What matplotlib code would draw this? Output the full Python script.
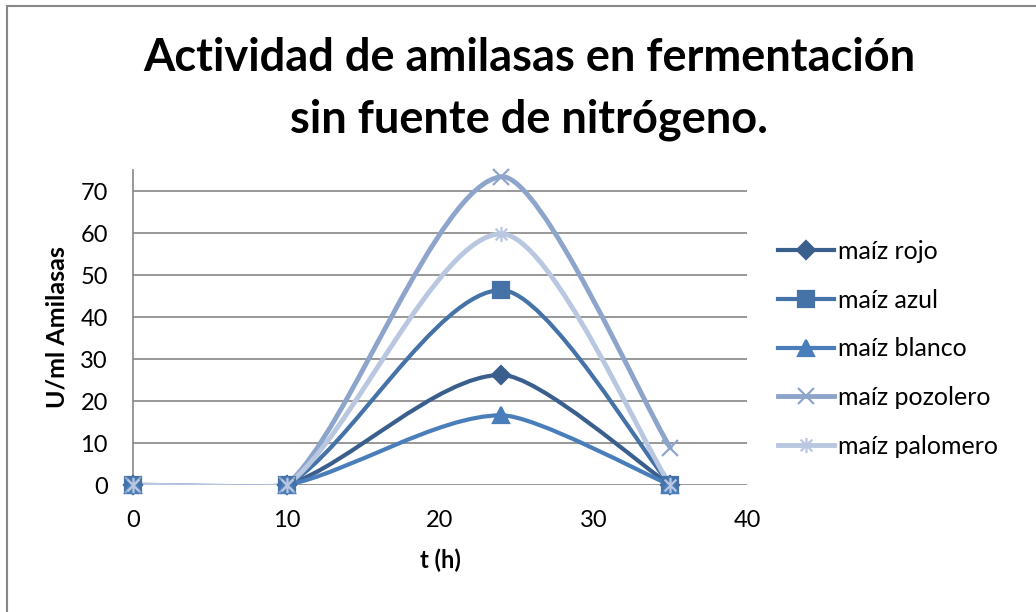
import numpy as np
import matplotlib
matplotlib.use("Agg")
import matplotlib.pyplot as plt
from matplotlib.path import Path
from matplotlib.patches import PathPatch, Rectangle
from matplotlib.lines import Line2D

# --- datos ---
t_h = [0, 10, 24, 35]
maiz_rojo = [0, 0, 26.2, 0]
maiz_azul = [0, 0, 46.4, 0]
maiz_blanco = [0, 0, 16.6, 0]
maiz_pozolero = [0, 0, 73.4, 8.9]
maiz_palomero = [0, 0, 59.8, 0]

series_names = ["maíz rojo", "maíz azul", "maíz blanco", "maíz pozolero", "maíz palomero"]
series_values = [maiz_rojo, maiz_azul, maiz_blanco, maiz_pozolero, maiz_palomero]

x_ticks = [0, 10, 20, 30, 40]
y_ticks = [0, 10, 20, 30, 40, 50, 60, 70]

title = "Actividad de amilasas en fermentación\nsin fuente de nitrógeno."
x_label = "t (h)"
y_label = "U/ml Amilasas"

# --- estilo ---
colors = ["#3A5F8D", "#4572A7", "#4A7EBB", "#8EA5CB", "#B9C7E1"]
line_widths = [3.0, 3.0, 3.0, 3.5, 3.5]
star = Path([(-1, -1), (1, 1), (-1, 1), (1, -1), (0, -1.3), (0, 1.3)],
            [Path.MOVETO, Path.LINETO, Path.MOVETO, Path.LINETO, Path.MOVETO, Path.LINETO])
markers = ["D", "s", "^", "x", star]
marker_sizes = [9, 11.5, 11, 11, 11]
grid_color = "#868686"

plt.rcParams["font.family"] = ["Lato", "DejaVu Sans"]


def smooth_path(ax, xs, ys):
    # curva suavizada tipo Excel (Bezier) calculada en pixeles
    pts = ax.transData.transform(np.column_stack([xs, ys]))
    n = len(pts)
    ext = np.vstack([pts[0], pts, pts[-1]])
    seg = np.linalg.norm(np.diff(pts, axis=0), axis=1)
    verts = [pts[0]]
    codes = [Path.MOVETO]
    for i in range(n - 1):
        p0, p1, p2, p3 = ext[i], ext[i + 1], ext[i + 2], ext[i + 3]
        L = seg[i]
        l_prev = seg[i - 1] if i > 0 else L
        l_next = seg[i + 1] if i < n - 2 else L
        f1 = (1 / 6) * min(1.0, L / l_prev) ** 3
        f2 = (1 / 6) * min(1.0, L / l_next) ** 3
        c1 = p1 + f1 * (p2 - p0)
        c2 = p2 - f2 * (p3 - p1)
        verts += [c1, c2, p2]
        codes += [Path.CURVE4] * 3
    data_verts = ax.transData.inverted().transform(np.array(verts))
    return Path(data_verts, codes)


fig = plt.figure(figsize=(10.36, 6.12), dpi=100)
ax = fig.add_axes([133 / 1036, 1 - 485 / 612, 614 / 1036, 315 / 612])
ax.set_xlim(0, 40)
ax.set_ylim(0, 75)

for i, (name, vals) in enumerate(zip(series_names, series_values)):
    p = smooth_path(ax, t_h, vals)
    ax.add_patch(PathPatch(p, fill=False, edgecolor=colors[i], lw=line_widths[i],
                           capstyle="round", joinstyle="round", zorder=3))
for i, (name, vals) in enumerate(zip(series_names, series_values)):
    ax.plot(t_h, vals, linestyle="none", marker=markers[i], ms=marker_sizes[i],
            color=colors[i], mec=colors[i], mew=1.6, zorder=4, clip_on=False)

ax.set_xticks(x_ticks)
ax.set_yticks(y_ticks)
ax.tick_params(axis="both", length=0, labelsize=17)
ax.tick_params(axis="y", pad=18)
ax.tick_params(axis="x", pad=18)
ax.grid(axis="y", color=grid_color, lw=1.2)
ax.set_axisbelow(True)
for s in ["top", "right", "bottom"]:
    ax.spines[s].set_visible(False)
ax.spines["left"].set_color(grid_color)
ax.spines["left"].set_linewidth(1.2)

ax.set_xlabel(x_label, fontsize=17, fontweight="bold")
ax.set_ylabel(y_label, fontsize=18, fontweight="bold")
ax.xaxis.set_label_coords(307 / 614, -64 / 315)
ax.yaxis.set_label_coords(-64 / 614, 0.5)

fig.text(529 / 1036, 1 - 89 / 612, title, ha="center", va="center",
         fontsize=32.5, fontweight="bold", linespacing=1.55)

handles = [Line2D([0], [0], color=colors[i], lw=line_widths[i], marker=markers[i],
                  ms=marker_sizes[i], mec=colors[i], mew=1.6)
           for i in range(len(series_names))]
fig.legend(handles, series_names, loc="upper left", bbox_to_anchor=(778 / 1036, 1 - 240 / 612),
           frameon=False, fontsize=18, handlelength=2.25, handletextpad=0.15,
           labelspacing=1.03, borderpad=0, borderaxespad=0)

# marco exterior
fig.patches.append(Rectangle((7 / 1036, -0.1), 1.2, 1.1 - 6 / 612,
                             transform=fig.transFigure, fill=False,
                             edgecolor="#878787", lw=1.5))

fig.savefig("out.png", dpi=100)
plt.close(fig)
